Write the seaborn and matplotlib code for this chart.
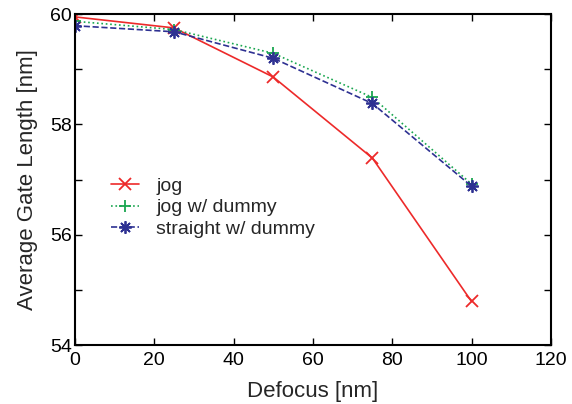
import numpy as np
import pandas as pd
import matplotlib
matplotlib.use('Agg')
import matplotlib.pyplot as plt
import seaborn as sns
from matplotlib.ticker import MultipleLocator

defocus = [0, 25, 50, 75, 100]
jog = [59.95, 59.75, 58.86, 57.39, 54.79]
jog_dummy = [59.87, 59.72, 59.29, 58.49, 56.92]
straight_dummy = [59.79, 59.68, 59.20, 58.38, 56.88]

series_names = ['jog', 'jog w/ dummy', 'straight w/ dummy']
series_values = [jog, jog_dummy, straight_dummy]
colors = ['#ed2a2a', '#1aa650', '#2e3192']
markers = ['x', '+', (8, 2, 0)]
dashes = ['-', ':', '--']

sns.set_style('ticks')
plt.rcParams['font.family'] = ['Liberation Sans', 'DejaVu Sans']

fig = plt.figure(figsize=(5.72, 4.04), dpi=100)
ax = fig.add_axes([0.131, 0.146, 0.832, 0.819])

for name, vals, c, m, ls in zip(series_names, series_values, colors, markers, dashes):
    sns.lineplot(x=defocus, y=vals, ax=ax, color=c, marker=m, linestyle=ls,
                 linewidth=1.2, markersize=9, markeredgewidth=1.3,
                 markeredgecolor=c, label=name)

ax.set_xlim(0, 120)
ax.set_ylim(54, 60)
ax.xaxis.set_major_locator(MultipleLocator(20))
ax.yaxis.set_major_locator(MultipleLocator(2))
ax.yaxis.set_minor_locator(MultipleLocator(1))
ax.tick_params(which='both', direction='in', top=True, right=True,
               labelsize=14, width=1, colors='black')
ax.tick_params(which='major', length=5)
ax.tick_params(which='minor', length=5)
ax.tick_params(axis='x', pad=5)
ax.tick_params(axis='y', pad=2)
for s in ax.spines.values():
    s.set_linewidth(1.5)
    s.set_color('black')

ax.set_xlabel('Defocus [nm]', fontsize=16, labelpad=9)
ax.set_ylabel('Average Gate Length [nm]', fontsize=16, labelpad=9)

ax.legend(loc='upper left', bbox_to_anchor=(0.04, 0.56), frameon=False,
          fontsize=14, handlelength=1.4, handletextpad=0.9, labelspacing=0.2)

fig.savefig('out.png', dpi=100)
